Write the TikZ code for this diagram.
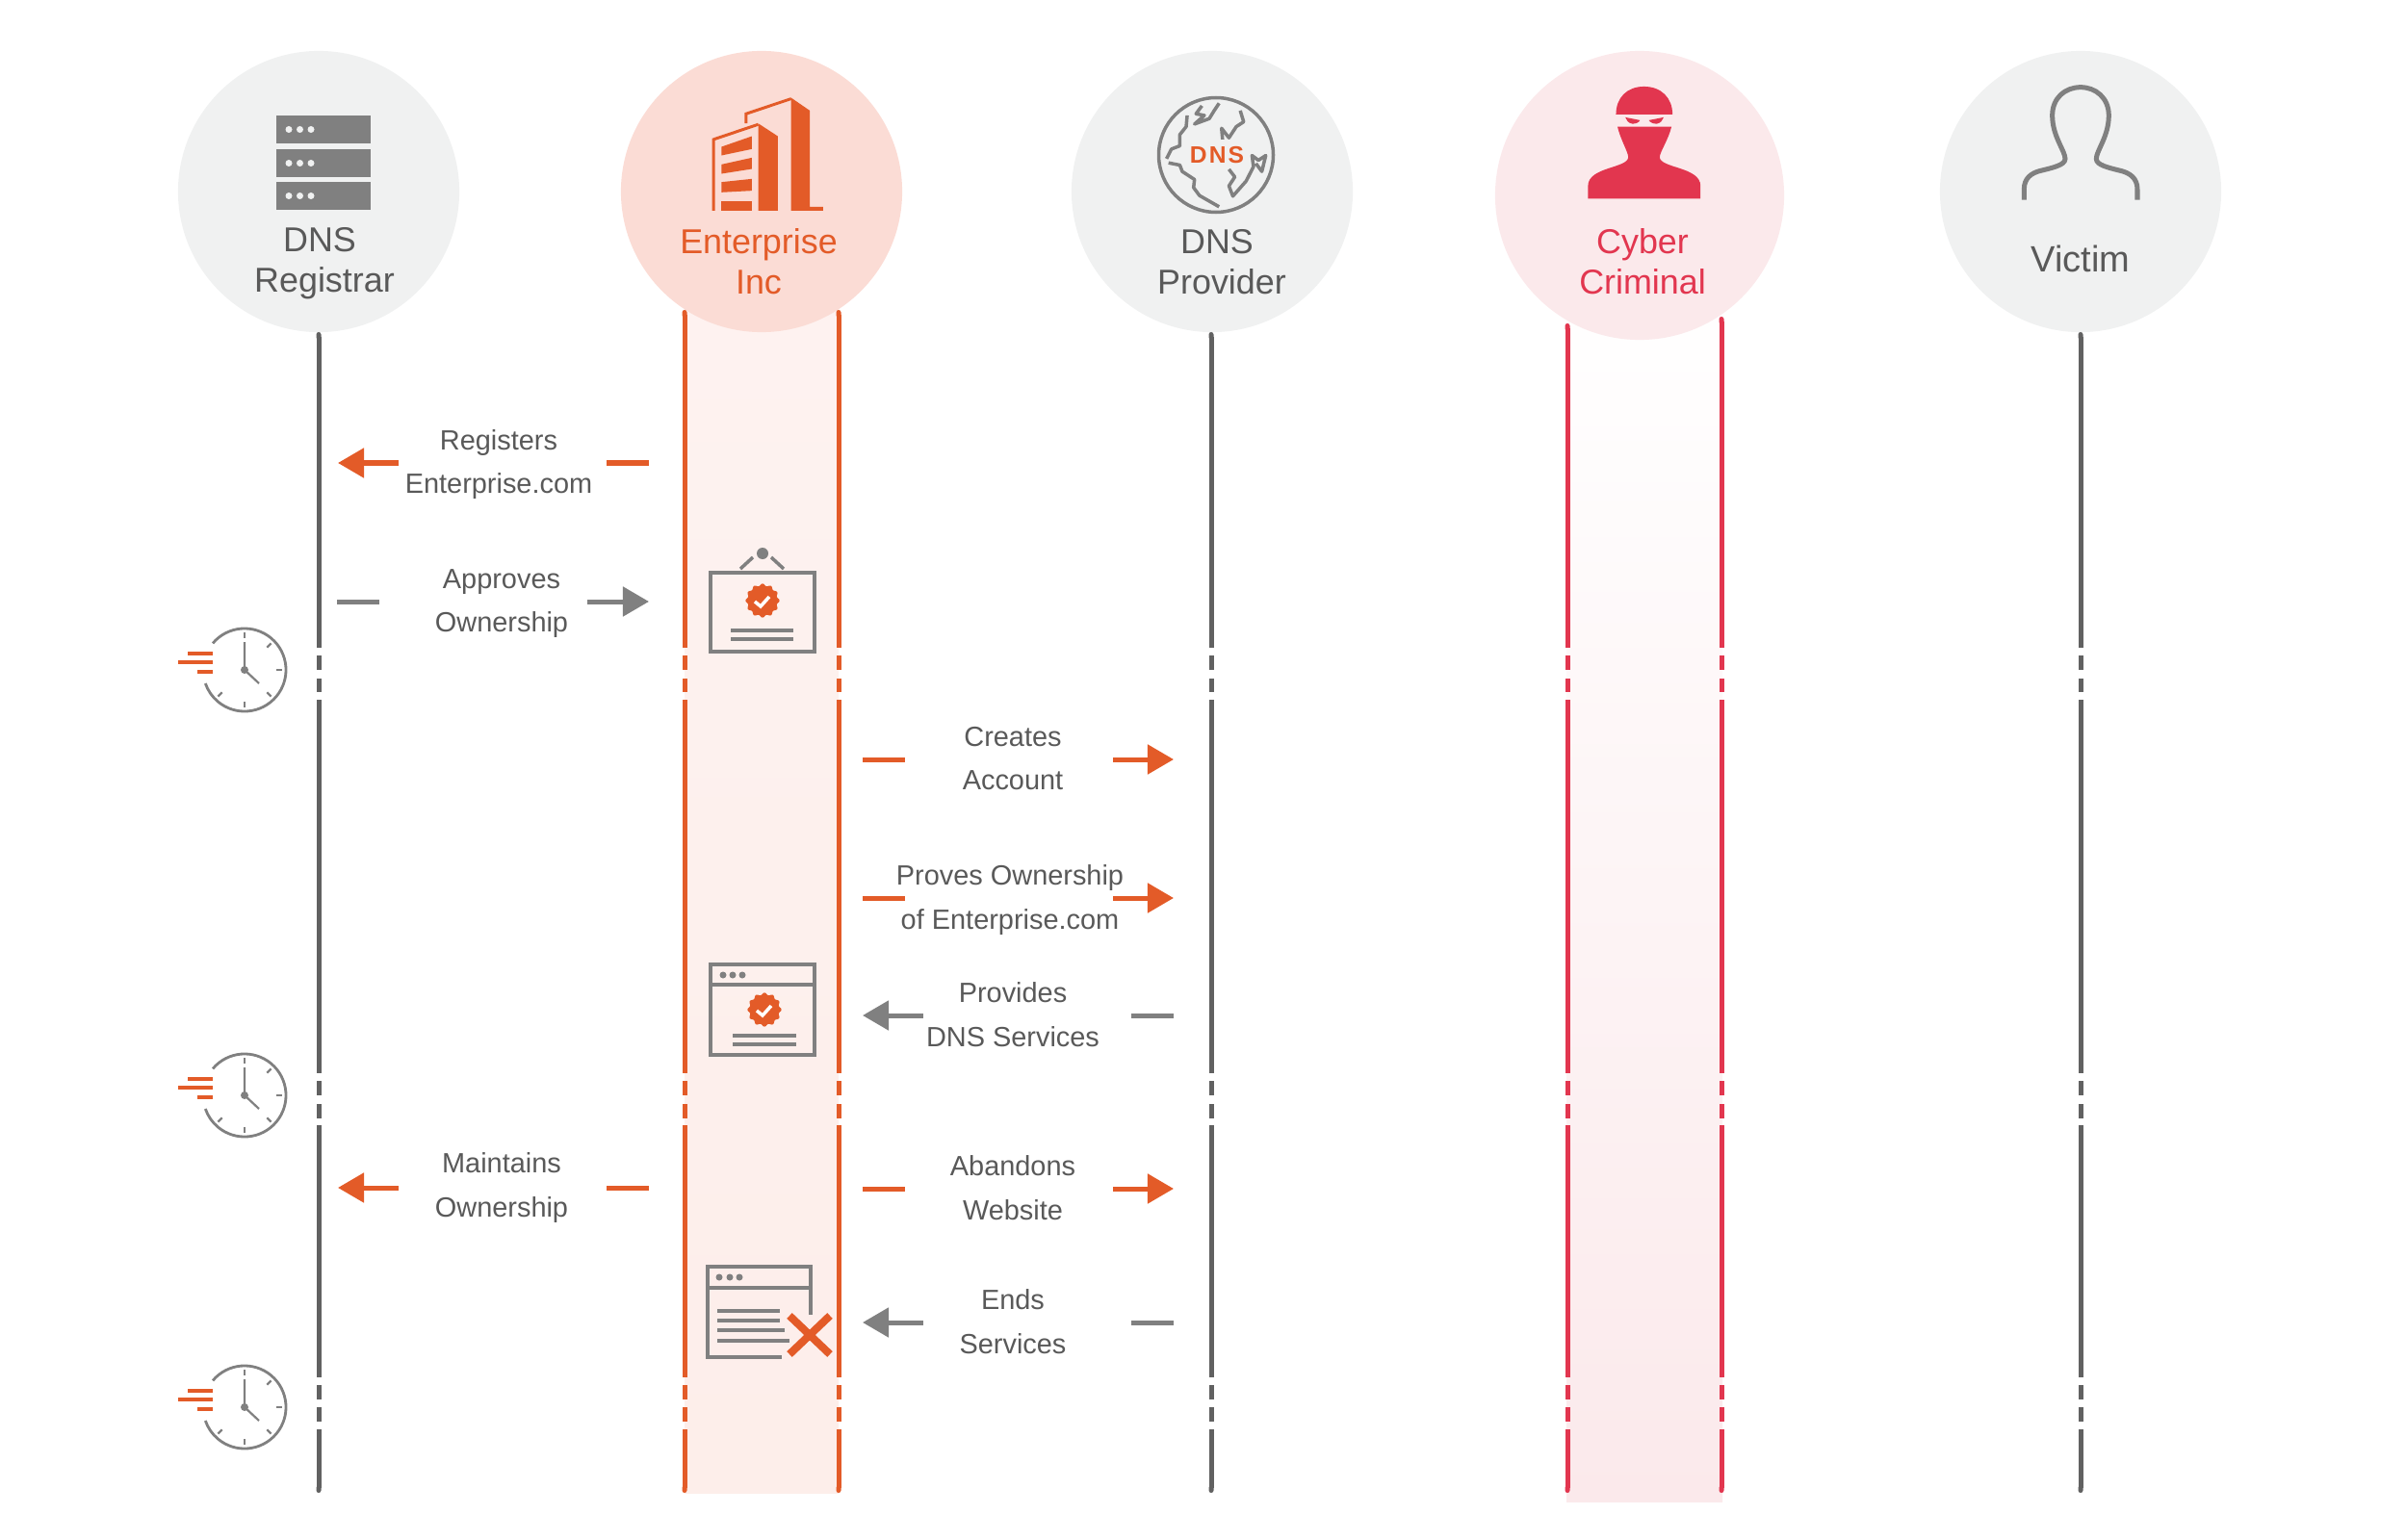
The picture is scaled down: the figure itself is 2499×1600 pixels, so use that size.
\documentclass[tikz,border=0pt]{standalone}
\usepackage{fontspec}
\usepackage{xcolor}
\usepackage{tikz}
\usetikzlibrary{arrows.meta, shapes.geometric, calc}
\setmainfont{Liberation Sans}
\definecolor{enterprise}{HTML}{E35B28}
\definecolor{enterprisebg}{HTML}{FBDCD5}
\definecolor{criminal}{HTML}{E2364F}
\definecolor{criminalbg}{HTML}{FBE9EB}
\definecolor{neutralbg}{HTML}{F0F1F1}
\definecolor{lifeline}{HTML}{616161}
\definecolor{icongray}{HTML}{808080}
\definecolor{labelgray}{HTML}{595959}

\begin{document}
\begin{tikzpicture}[x=0.01cm, y=-0.01cm, >={Triangle[length=0.27cm, width=0.3cm]}]
  \useasboundingbox (0,0) rectangle (2499,1600);
  \tikzset{
    actor/.style={circle, minimum size=2.92cm, inner sep=0pt},
    actorlabel/.style={align=center, font=\fontsize{10.2}{11.9}\selectfont},
    steplabel/.style={align=center, text=labelgray, font=\fontsize{8.22}{13}\selectfont},
    lifeseg/.style={line width=0.05cm},
    flow/.style={line width=0.05cm},
    iconline/.style={icongray, line width=0.035cm},
    badge/.pic={
      \fill[enterprise] plot[domain=0:360, samples=73, smooth] (\x:{16.5+1.2*cos(12*\x)});
      \draw[white, line width=0.035cm] (-8,1) -- (-2,6) -- (7,-4);
    },
    clock/.pic={
      \draw[iconline, line width=0.028cm] (140:0.43cm) arc[start angle=140, end angle=-161, radius=0.43cm];
      \foreach \a in {90,45,0,-45,-90,-135}
        \draw[iconline, line width=0.022cm] (\a:0.33cm) -- (\a:0.39cm);
      \draw[iconline, line width=0.022cm] (0,-29) -- (0,0) -- (15,14);
      \fill[icongray] (0,0) circle[radius=4];
      \draw[enterprise, line width=0.04cm] (-59,-17) -- (-33,-17) (-69,-8) -- (-33,-8) (-49,2) -- (-33,2);
    }
  }

  % Pasy pod sloupci
  \shade[top color=enterprisebg!35!white, bottom color=enterprisebg!50!white] (711,250) rectangle (871,1551);
  \shade[top color=white, middle color=criminalbg!50!white, bottom color=criminalbg] (1627,300) rectangle (1789,1560);

  % Kruhy
  \node[actor, fill=neutralbg] (registrar) at (331,199) {};
  \node[actor, fill=enterprisebg] (company) at (791,199) {};
  \node[actor, fill=neutralbg] (provider) at (1259,199) {};
  \node[actor, fill=criminalbg, minimum size=3cm] (hacker) at (1703,203) {};
  \node[actor, fill=neutralbg] (victim) at (2161,199) {};

  % Svisle cary s prerusenim
  \foreach \lx/\ly/\lc in {331/345/lifeline, 711/322/enterprise, 871/322/enterprise, 1258/345/lifeline,
                           1628/336/criminal, 1788/329/criminal, 2161/345/lifeline} {
    \draw[lifeseg, \lc, {Round Cap}-] (\lx,\ly) -- (\lx,673);
    \foreach \a/\b in {681/696, 705/719, 727/1115, 1123/1138, 1147/1162, 1169/1431, 1439/1454, 1462/1477}
      \draw[lifeseg, \lc] (\lx,\a) -- (\lx,\b);
    \draw[lifeseg, \lc, -{Round Cap}] (\lx,1485) -- (\lx,1551);
  }

  % Popisky kruhu
  \node[actorlabel, text=labelgray] (registrartext) at (337,274) {DNS\kern 0.1cm\\Registrar};
  \node[actorlabel, text=enterprise] (companytext) at (788,272) {Enterprise\\Inc};
  \node[actorlabel, text=labelgray] (providertext) at (1269,272) {DNS\kern 0.1cm\\Provider};
  \node[actorlabel, text=criminal] (hackertext) at (1706,272) {Cyber\\Criminal};
  \node[actorlabel, text=labelgray, font=\fontsize{10.8}{12}\selectfont] (victimtext) at (2161,269) {Victim};

  % Ikona: servery
  \foreach \sy in {120,155,189} {
    \fill[icongray] (287,\sy) rectangle (385,\sy+29);
    \foreach \sx in {300,311.5,323}
      \fill[neutralbg] (\sx,\sy+14.5) circle[radius=3.5];
  }

  % Ikona: budovy (souradnice z vyrezu)
  \begin{scope}[shift={(160,30)}, xscale=0.5102, yscale=0.333]
    \fill[enterprise] (1297,215) -- (1335,255) -- (1335,555) -- (1362,555) -- (1362,567) -- (1297,567) -- cycle;
    \draw[enterprise, line width=0.03cm] (1205,295) -- (1205,265) -- (1297,218);
    \fill[enterprise] (1230,295) -- (1270,335) -- (1270,567) -- (1230,567) -- cycle;
    \draw[enterprise, line width=0.03cm] (1139,567) -- (1139,345) -- (1230,298);
    \fill[enterprise] (1155,368) -- (1217,335) -- (1217,375) -- (1155,395) -- cycle;
    \fill[enterprise] (1155,423) -- (1217,402) -- (1217,437) -- (1155,452) -- cycle;
    \fill[enterprise] (1155,478) -- (1217,468) -- (1217,505) -- (1155,510) -- cycle;
    \fill[enterprise] (1155,537) -- (1217,537) -- (1217,567) -- (1155,567) -- cycle;
  \end{scope}

  % Ikona: zemekoule
  \draw[iconline] (1263,161) circle[radius=59.5];
  \node[inner sep=0pt, text=enterprise, font=\fontsize{7}{8}\selectfont\bfseries] (dnsmark) at (1264,161) {D\kern 0.6pt N\kern 0.6pt S};
  \begin{scope}[shift={(1080,30)}, xscale=0.5102, yscale=0.333, iconline, line join=round]
    \draw (300,270) -- (298,305) -- (285,330) -- (285,365) -- (268,375) -- (258,405);
    \draw (262,418) -- (285,425) -- (290,445) -- (315,470) -- (313,495) -- (325,520) -- (365,555);
    \draw (330,240) -- (318,265) -- (335,270) -- (315,297) -- (345,280) -- (355,255) -- (365,232);
    \draw (408,255) -- (415,290) -- (400,305) -- (385,340) -- (370,310) -- (372,345);
    \draw (385,438) -- (397,462) -- (385,490) -- (393,522) -- (420,475) -- (435,430) -- (432,395) -- (445,410) -- (460,395) -- (452,445) -- (440,420);
  \end{scope}

  % Ikona: utocnik
  \begin{scope}[shift={(1080,30)}, xscale=0.5102, yscale=0.333]
    \fill[criminal] (1173,267) .. controls (1173,215) and (1195,180) .. (1230,180) .. controls (1265,180) and (1288,215) .. (1288,267) -- cycle;
    \fill[criminal] (1192,276) -- (1222,285) .. controls (1220,292) and (1212,297) .. (1206,296) .. controls (1198,294) and (1194,285) .. (1192,276) -- cycle;
    \fill[criminal] (1270,276) -- (1240,285) .. controls (1242,292) and (1250,297) .. (1256,296) .. controls (1264,294) and (1268,285) .. (1270,276) -- cycle;
    \fill[criminal] (1176,305) -- (1286,305) .. controls (1280,345) and (1262,385) .. (1262,400) .. controls (1262,435) and (1345,430) .. (1345,490) -- (1345,530) -- (1116,530) -- (1116,490) .. controls (1116,430) and (1198,435) .. (1198,400) .. controls (1198,385) and (1182,345) .. (1176,305) -- cycle;
  \end{scope}

  % Ikona: obet
  \begin{scope}[shift={(2010,50)}, scale=0.3333]
    \draw[icongray, line width=0.05cm] (277,473) -- (277,440) .. controls (277,405) and (300,390) .. (325,383) .. controls (365,373) and (405,365) .. (405,345) .. controls (405,320) and (365,275) .. (365,210) .. controls (365,155) and (405,122) .. (453,122) .. controls (500,122) and (541,155) .. (541,210) .. controls (541,275) and (502,320) .. (502,345) .. controls (502,365) and (541,373) .. (581,383) .. controls (606,390) and (630,405) .. (630,440) -- (630,473);
  \end{scope}

  % Hodiny
  \foreach \cy in {696,1138,1462}
    \pic at (254,\cy) {clock};

  % 1. Registers
  \node[steplabel] (registers) at (518,482.5) {Registers\\Enterprise.com};
  \path (351,481) coordinate (registers-a) (414,481) coordinate (registers-b) (630,481) coordinate (registers-c) (674,481) coordinate (registers-d);
  \draw[flow, enterprise, <-] (registers-a) -- (registers-b);
  \draw[flow, enterprise] (registers-c) -- (registers-d);

  % 2. Approves
  \node[steplabel] (approves) at (521,627) {Approves\\Ownership};
  \path (350,625) coordinate (approves-a) (394,625) coordinate (approves-b) (610,625) coordinate (approves-c) (674,625) coordinate (approves-d);
  \draw[flow, icongray] (approves-a) -- (approves-b);
  \draw[flow, icongray, ->] (approves-c) -- (approves-d);

  % 3. Creates
  \node[steplabel] (creates) at (1052,788) {Creates\\Account};
  \path (896,789) coordinate (creates-a) (940,789) coordinate (creates-b) (1156,789) coordinate (creates-c) (1219,789) coordinate (creates-d);
  \draw[flow, enterprise] (creates-a) -- (creates-b);
  \draw[flow, enterprise, ->] (creates-c) -- (creates-d);

  % 4. Proves
  \node[steplabel] (proves) at (1049,935) {Proves Ownership\\of Enterprise.com};
  \path (896,933) coordinate (proves-a) (940,933) coordinate (proves-b) (1156,933) coordinate (proves-c) (1219,933) coordinate (proves-d);
  \draw[flow, enterprise] (proves-a) -- (proves-b);
  \draw[flow, enterprise, ->] (proves-c) -- (proves-d);

  % 5. Provides
  \node[steplabel] (provides) at (1052,1054) {Provides\\DNS Services};
  \path (896,1055) coordinate (provides-a) (959,1055) coordinate (provides-b) (1175,1055) coordinate (provides-c) (1219,1055) coordinate (provides-d);
  \draw[flow, icongray, <-] (provides-a) -- (provides-b);
  \draw[flow, icongray] (provides-c) -- (provides-d);

  % 6. Maintains
  \node[steplabel] (maintains) at (521,1234) {Maintains\\Ownership};
  \path (351,1234) coordinate (maintains-a) (414,1234) coordinate (maintains-b) (630,1234) coordinate (maintains-c) (674,1234) coordinate (maintains-d);
  \draw[flow, enterprise, <-] (maintains-a) -- (maintains-b);
  \draw[flow, enterprise] (maintains-c) -- (maintains-d);

  % 7. Abandons
  \node[steplabel] (abandons) at (1052,1234) {Abandons\\Website};
  \path (896,1235) coordinate (abandons-a) (940,1235) coordinate (abandons-b) (1156,1235) coordinate (abandons-c) (1219,1235) coordinate (abandons-d);
  \draw[flow, enterprise] (abandons-a) -- (abandons-b);
  \draw[flow, enterprise, ->] (abandons-c) -- (abandons-d);

  % 8. Ends
  \node[steplabel] (ends) at (1052,1373) {Ends\\Services};
  \path (896,1374) coordinate (ends-a) (959,1374) coordinate (ends-b) (1175,1374) coordinate (ends-c) (1219,1374) coordinate (ends-d);
  \draw[flow, icongray, <-] (ends-a) -- (ends-b);
  \draw[flow, icongray] (ends-c) -- (ends-d);

  % Certifikat na zavesu
  \draw[iconline] (738,595) rectangle (846,677);
  \fill[icongray] (792,575) circle[radius=6];
  \draw[iconline] (769,591) -- (782,579) (814,591) -- (801,579);
  \pic at (792,624) {badge};
  \draw[iconline] (759,655) -- (824,655) (759,664) -- (824,664);

  % Okno s certifikatem
  \draw[iconline] (738,1002) rectangle (846,1096) (738,1023) -- (846,1023);
  \foreach \dx in {751,761,771}
    \fill[icongray] (\dx,1013) circle[radius=3.5];
  \pic at (794,1049) {badge};
  \draw[iconline] (761,1076) -- (827,1076) (761,1085) -- (827,1085);

  % Zrusene okno
  \draw[iconline] (842,1366) -- (842,1316) -- (735,1316) -- (735,1410) -- (812,1410) (735,1338) -- (842,1338);
  \foreach \dx in {747,758,768}
    \fill[icongray] (\dx,1327) circle[radius=3.5];
  \draw[iconline] (745,1362) -- (810,1362) (745,1372) -- (810,1372) (745,1382) -- (815,1382) (745,1393) -- (820,1393);
  \draw[enterprise, line width=0.08cm] (820,1367) -- (862,1407) (862,1367) -- (820,1407);
\end{tikzpicture}
\end{document}
